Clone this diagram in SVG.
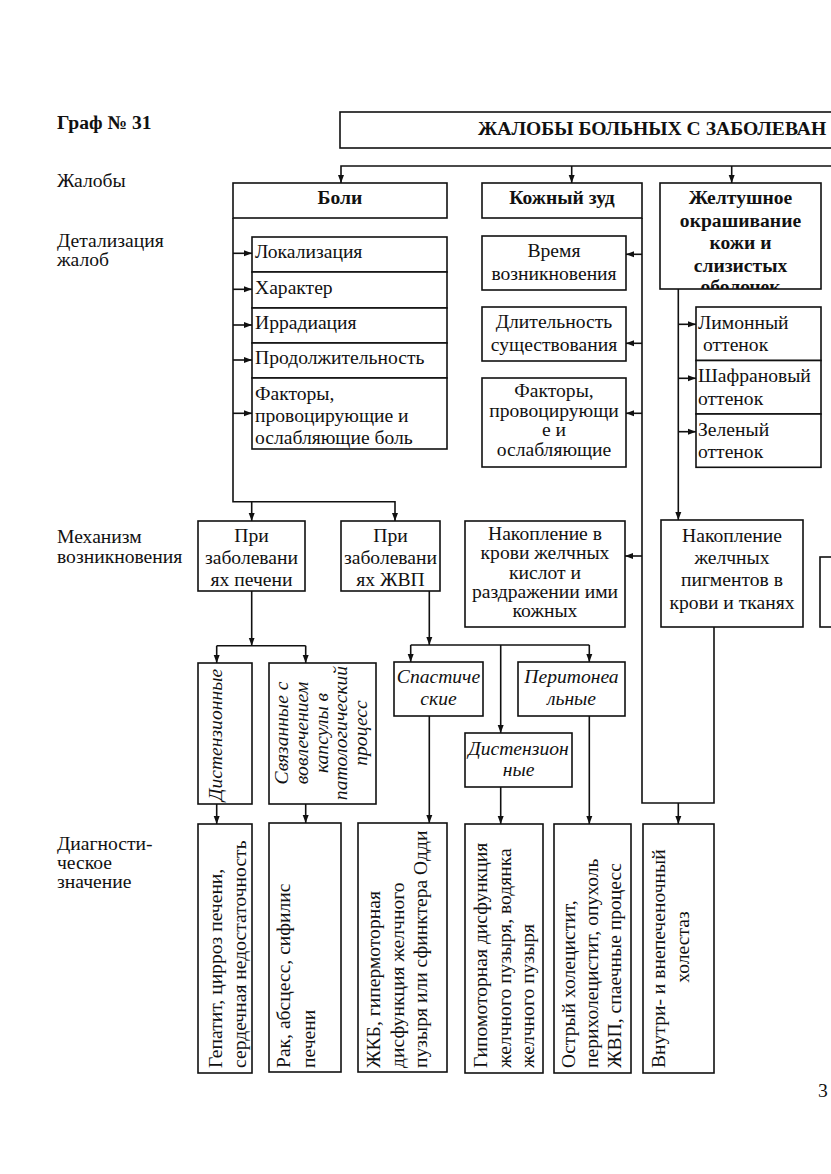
<svg xmlns="http://www.w3.org/2000/svg" width="831" height="1174" viewBox="0 0 831 1174" font-family="Liberation Serif, serif" font-size="19.6">
<style>
.bx{fill:#fff;stroke:#111;stroke-width:1.6}
.ln{fill:none;stroke:#111;stroke-width:1.6}
.ar{marker-end:url(#ah)}
text{fill:#111;font-family:"Liberation Serif",serif;font-size:19.6px}
.b{font-weight:bold}
.i{font-style:italic}
.c{text-anchor:middle}
</style>
<defs>
<marker id="ah" markerUnits="userSpaceOnUse" markerWidth="8" markerHeight="8" viewBox="0 0 8 8" refX="8" refY="4" orient="auto">
<path d="M0,1 L8,4 L0,7 z" fill="#111"/>
</marker>
<clipPath id="clipJ"><rect x="660" y="183" width="161" height="106"/></clipPath>
</defs>
<rect width="831" height="1174" fill="#fff"/>

<g id="labels">
<text x="57" y="129" class="b">Граф № 31</text>
<text x="57" y="187">Жалобы</text>
<text x="57" y="247">Детализация</text>
<text x="57" y="266">жалоб</text>
<text x="57" y="543">Механизм</text>
<text x="57" y="563">возникновения</text>
<text x="57" y="850">Диагности-</text>
<text x="57" y="869">ческое</text>
<text x="57" y="888">значение</text>
<text x="818" y="1097">3</text>
</g>

<g id="connectors">
<path class="ln ar" d="M831,166 H341 V183"/>
<path class="ln ar" d="M571.7,166 V183"/>
<path class="ln ar" d="M731.7,166 V183"/>
<path class="ln ar" d="M233,218 V501.7 H395 V521"/>
<path class="ln ar" d="M251.7,501.7 V521"/>
<path class="ln ar" d="M233,253.3 H252"/>
<path class="ln ar" d="M233,289.3 H252"/>
<path class="ln ar" d="M233,325 H252"/>
<path class="ln ar" d="M233,360 H252"/>
<path class="ln ar" d="M233,413.3 H252"/>
<path class="ln" d="M642,218 V803 H714 V627"/>
<path class="ln ar" d="M678.3,803 V824"/>
<path class="ln ar" d="M642,254.3 H626"/>
<path class="ln ar" d="M642,343.3 H626"/>
<path class="ln ar" d="M642,413.3 H626"/>
<path class="ln ar" d="M642,556 H625"/>
<path class="ln ar" d="M678.3,289 V520"/>
<path class="ln ar" d="M678.3,324.3 H696"/>
<path class="ln ar" d="M678.3,378.3 H696"/>
<path class="ln ar" d="M678.3,431.7 H696"/>
<path class="ln ar" d="M251.7,591 V645.7"/>
<path class="ln" d="M216.7,645.7 H305.7"/>
<path class="ln ar" d="M216.7,645.7 V663"/>
<path class="ln ar" d="M305.7,645.7 V663"/>
<path class="ln ar" d="M429.3,591 V645"/>
<path class="ln" d="M410.7,645 H589.3"/>
<path class="ln ar" d="M410.7,645 V662"/>
<path class="ln ar" d="M589.3,645 V662"/>
<path class="ln ar" d="M500.7,645 V733"/>
<path class="ln ar" d="M216.7,804 V824"/>
<path class="ln ar" d="M305.7,804 V823"/>
<path class="ln ar" d="M429.3,716 V823"/>
<path class="ln ar" d="M500.7,787 V824"/>
<path class="ln ar" d="M589.3,716 V824"/>
</g>

<g id="title">
<rect class="bx" x="340" y="112" width="560" height="36"/>
<text x="478" y="135" class="b">ЖАЛОБЫ БОЛЬНЫХ С ЗАБОЛЕВАН</text>
</g>

<g id="boli">
<rect class="bx" x="233" y="183" width="214" height="35"/>
<text x="340" y="204" class="b c">Боли</text>
</g>
<g id="lokalizatsiya"><rect class="bx" x="252" y="237" width="195" height="35"/><text x="255" y="258">Локализация</text></g>
<g id="kharakter"><rect class="bx" x="252" y="272" width="195" height="36"/><text x="255" y="293.5">Характер</text></g>
<g id="irradiatsiya"><rect class="bx" x="252" y="308" width="195" height="35"/><text x="255" y="328.5">Иррадиация</text></g>
<g id="prodolzhitelnost"><rect class="bx" x="252" y="343" width="195" height="35"/><text x="255" y="363.5">Продолжительность</text></g>
<g id="faktory-bol"><rect class="bx" x="252" y="378" width="195" height="71"/>
<text x="255" y="399.5">Факторы,</text><text x="255" y="421.5">провоцирующие и</text><text x="255" y="443.5">ослабляющие боль</text></g>

<g id="kozhny-zud">
<rect class="bx" x="482" y="183" width="160" height="35"/>
<text x="562" y="204" class="b c">Кожный зуд</text>
</g>
<g id="vremya"><rect class="bx" x="482" y="236" width="144" height="54"/>
<text x="554" y="257" class="c">Время</text><text x="554" y="280" class="c">возникновения</text></g>
<g id="dlitelnost"><rect class="bx" x="482" y="307" width="144" height="54"/>
<text x="554" y="328" class="c">Длительность</text><text x="554" y="351" class="c">существования</text></g>
<g id="faktory-zud"><rect class="bx" x="482" y="378" width="144" height="89"/>
<text x="554" y="397" class="c">Факторы,</text><text x="554" y="416.5" class="c">провоцирующи</text><text x="554" y="436" class="c">е и</text><text x="554" y="455.5" class="c">ослабляющие</text></g>

<g id="zheltushnoe">
<rect class="bx" x="660" y="183" width="161" height="106"/>
<g clip-path="url(#clipJ)">
<text x="740.5" y="204" class="b c">Желтушное</text>
<text x="740.5" y="226.5" class="b c">окрашивание</text>
<text x="740.5" y="249" class="b c">кожи и</text>
<text x="740.5" y="271.5" class="b c">слизистых</text>
<text x="740.5" y="292.5" class="b c">оболочек</text>
</g>
</g>
<g id="limonny"><rect class="bx" x="696" y="307" width="125" height="53.5"/>
<text x="698" y="328.5">Лимонный</text><text x="703" y="351">оттенок</text></g>
<g id="shafranovy"><rect class="bx" x="696" y="360.5" width="125" height="53.5"/>
<text x="698" y="382">Шафрановый</text><text x="698" y="405">оттенок</text></g>
<g id="zeleny"><rect class="bx" x="696" y="414" width="125" height="53.3"/>
<text x="698" y="436">Зеленый</text><text x="698" y="457.5">оттенок</text></g>

<g id="pri-pecheni"><rect class="bx" x="198" y="521" width="107" height="70"/>
<text x="251.5" y="541.5" class="c">При</text><text x="251.5" y="563.5" class="c">заболевани</text><text x="251.5" y="586" class="c">ях печени</text></g>
<g id="pri-zhvp"><rect class="bx" x="341" y="521" width="99" height="70"/>
<text x="390.5" y="541.5" class="c">При</text><text x="390.5" y="563.5" class="c">заболевани</text><text x="390.5" y="586" class="c">ях ЖВП</text></g>
<g id="nakoplenie-kislot"><rect class="bx" x="465" y="521" width="160" height="106"/>
<text x="545" y="540" class="c">Накопление в</text><text x="545" y="559" class="c">крови желчных</text><text x="545" y="578.5" class="c">кислот и</text><text x="545" y="598" class="c">раздражении ими</text><text x="545" y="617" class="c">кожных</text></g>
<g id="nakoplenie-pigmentov"><rect class="bx" x="661" y="520" width="142" height="107"/>
<text x="732" y="541.5" class="c">Накопление</text><text x="732" y="563.5" class="c">желчных</text><text x="732" y="586" class="c">пигментов в</text><text x="732" y="608.5" class="c">крови и тканях</text></g>
<g id="right-box"><rect class="bx" x="820" y="557" width="40" height="70"/></g>

<g id="distenzionnye-pechen"><rect class="bx" x="198" y="663" width="54" height="141"/>
<text transform="translate(222,735) rotate(-90)" class="i c">Дистензионные</text></g>
<g id="svyazannye"><rect class="bx" x="269" y="663" width="107" height="141"/>
<text transform="translate(288,733) rotate(-90)" class="i c">Связанные с</text>
<text transform="translate(308,733) rotate(-90)" class="i c">вовлечением</text>
<text transform="translate(327.5,733) rotate(-90)" class="i c">капсулы в</text>
<text transform="translate(347,733) rotate(-90)" class="i c">патологический</text>
<text transform="translate(366.5,733) rotate(-90)" class="i c">процесс</text></g>
<g id="spasticheskie"><rect class="bx" x="394" y="662" width="89" height="54"/>
<text x="438.5" y="683" class="i c">Спастиче</text><text x="438.5" y="705" class="i c">ские</text></g>
<g id="peritonealnye"><rect class="bx" x="518" y="662" width="107" height="54"/>
<text x="571.5" y="683" class="i c">Перитонеа</text><text x="571.5" y="705" class="i c">льные</text></g>
<g id="distenzionnye-zhvp"><rect class="bx" x="465" y="733" width="107" height="54"/>
<text x="518.5" y="755" class="i c">Дистензион</text><text x="518.5" y="776" class="i c">ные</text></g>

<g id="dx-gepatit"><rect class="bx" x="198" y="824" width="54" height="249"/>
<text transform="translate(222,1068) rotate(-90)">Гепатит, цирроз печени,</text>
<text transform="translate(246,1068) rotate(-90)">сердечная недостаточность</text></g>
<g id="dx-rak"><rect class="bx" x="269" y="823" width="72" height="249"/>
<text transform="translate(290,1068) rotate(-90)">Рак, абсцесс, сифилис</text>
<text transform="translate(315,1068) rotate(-90)">печени</text></g>
<g id="dx-zhkb"><rect class="bx" x="358" y="823" width="89" height="249"/>
<text transform="translate(380,1068) rotate(-90)">ЖКБ, гипермоторная</text>
<text transform="translate(403.5,1068) rotate(-90)">дисфункция желчного</text>
<text transform="translate(427,1068) rotate(-90)">пузыря или сфинктера Одди</text></g>
<g id="dx-gipomotornaya"><rect class="bx" x="465" y="824" width="78" height="249"/>
<text transform="translate(487,1068) rotate(-90)">Гипомоторная дисфункция</text>
<text transform="translate(510.5,1068) rotate(-90)">желчного пузыря, водянка</text>
<text transform="translate(534,1068) rotate(-90)">желчного пузыря</text></g>
<g id="dx-holetsistit"><rect class="bx" x="554" y="824" width="77" height="249"/>
<text transform="translate(575,1068) rotate(-90)">Острый холецистит,</text>
<text transform="translate(598,1068) rotate(-90)">перихолецистит, опухоль</text>
<text transform="translate(621,1068) rotate(-90)">ЖВП, спаечные процесс</text></g>
<g id="dx-holestaz"><rect class="bx" x="643" y="824" width="71" height="249"/>
<text transform="translate(665,1068) rotate(-90)">Внутри- и внепеченочный</text>
<text transform="translate(688.5,947) rotate(-90)" class="c">холестаз</text></g>
</svg>
